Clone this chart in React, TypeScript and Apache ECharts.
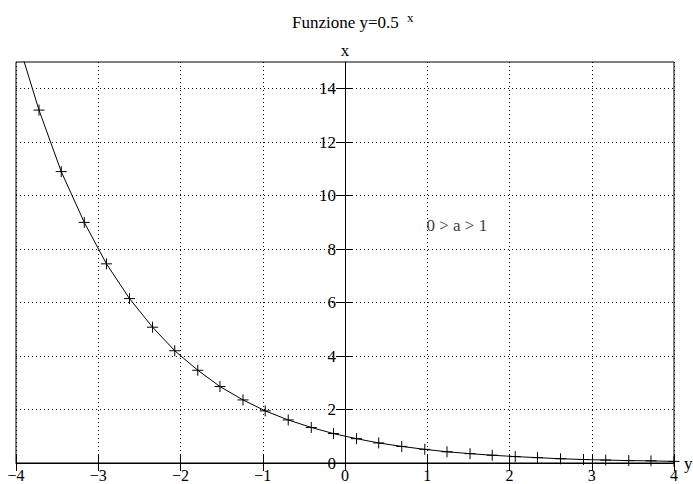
import React, { useEffect, useRef } from 'react';
import * as echarts from 'echarts';

const xValues = [-4, -3.72, -3.45, -3.17, -2.9, -2.62, -2.34, -2.07, -1.79, -1.52, -1.24, -0.97, -0.69, -0.41, -0.14, 0.14, 0.41, 0.69, 0.97, 1.24, 1.52, 1.79, 2.07, 2.34, 2.62, 2.9, 3.17, 3.45, 3.72, 4];
const yValues = [16, 13.2, 10.9, 9.0, 7.45, 6.15, 5.08, 4.2, 3.47, 2.86, 2.36, 1.95, 1.61, 1.33, 1.1, 0.91, 0.75, 0.62, 0.51, 0.42, 0.35, 0.29, 0.24, 0.2, 0.16, 0.13, 0.11, 0.09, 0.08, 0.06];
const xTicks = [-4, -3, -2, -1, 0, 1, 2, 3, 4];
const yTicks = [0, 2, 4, 6, 8, 10, 12, 14];
const titleText = 'Funzione y=0.5';
const titleSup = 'x';
const xAxisName = 'y';
const yAxisName = 'x';
const noteText = '0 > a > 1';
const noteAt = [0.99, 8.87];

const GRID_LEFT = 16;
const GRID_RIGHT = 19;
const CHART_W = 693;
const CHART_H = 484;

export default function App() {
  const ref = useRef<HTMLDivElement>(null);
  useEffect(() => {
    const chart = echarts.init(ref.current!, null, { renderer: 'svg' });
    const font = '"Liberation Serif", "Times New Roman", serif';
    const black = '#000';
    const dotted = { show: true, lineStyle: { color: black, width: 1, type: [1, 3] } };
    const fmtX = (v: number) => (v < 0 ? '\u2212' + Math.abs(v) : String(v));
    const xMin = xTicks[0];
    const xMax = xTicks[xTicks.length - 1];
    // place the y axis at x = 0 inside the grid
    const plotW = CHART_W - GRID_LEFT - GRID_RIGHT;
    const yAxisOffset = -plotW * (0 - xMin) / (xMax - xMin);
    chart.setOption({
      animation: false,
      title: [
        { text: titleText, left: 292, top: 14, padding: 0, textStyle: { fontFamily: font, fontSize: 17, fontWeight: 'normal', color: black } },
        { text: titleSup, left: 407, top: 11, padding: 0, textStyle: { fontFamily: font, fontSize: 13, fontWeight: 'normal', color: black } },
      ],
      grid: { left: GRID_LEFT, right: GRID_RIGHT, top: 62, bottom: 21, show: true, borderColor: black, borderWidth: 1, backgroundColor: 'transparent', outerBoundsMode: 'none', containLabel: false },
      xAxis: [
        {
          type: 'value', min: xMin, max: xMax, interval: 1, position: 'bottom',
          name: xAxisName, nameLocation: 'end', nameGap: 10,
          nameTextStyle: { fontFamily: font, fontSize: 17, color: black, verticalAlign: 'middle' },
          axisLine: { show: true, onZero: false, lineStyle: { color: black, width: 1 } },
          axisTick: { show: true, length: 8, lineStyle: { color: black, width: 1 } },
          axisLabel: { fontFamily: font, fontSize: 16, color: black, margin: 4, formatter: fmtX, showMinLabel: true, showMaxLabel: true },
          splitLine: dotted,
        },
        {
          type: 'value', min: xMin, max: xMax, interval: 1, position: 'bottom',
          axisLine: { show: false, onZero: false },
          axisTick: { show: true, inside: true, length: 8, lineStyle: { color: black, width: 1 } },
          axisLabel: { show: false },
          splitLine: { show: false },
        },
      ],
      yAxis: [
        {
          type: 'value', min: 0, max: 15, interval: 2, position: 'left', offset: yAxisOffset,
          name: yAxisName, nameLocation: 'end', nameGap: 3,
          nameTextStyle: { fontFamily: font, fontSize: 17, color: black },
          axisLine: { show: true, onZero: false, lineStyle: { color: black, width: 1 } },
          axisTick: { show: true, length: 8, customValues: yTicks, lineStyle: { color: black, width: 1 } },
          axisLabel: { fontFamily: font, fontSize: 17, color: black, margin: 9, customValues: yTicks },
          splitLine: dotted,
        },
        {
          type: 'value', min: 0, max: 15, interval: 2, position: 'left', offset: yAxisOffset,
          axisLine: { show: false, onZero: false },
          axisTick: { show: true, inside: true, length: 8, customValues: yTicks, lineStyle: { color: black, width: 1 } },
          axisLabel: { show: false },
          splitLine: { show: false },
        },
      ],
      series: [
        {
          type: 'line', xAxisIndex: 0, yAxisIndex: 0,
          data: xValues.map((x, i) => [x, yValues[i]]),
          symbol: 'path://M0,5L10,5M5,0L5,10', symbolSize: 11,
          showSymbol: true, showAllSymbol: true, clip: true, silent: true,
          lineStyle: { color: black, width: 1 },
          itemStyle: { color: black, borderColor: black, borderWidth: 1 },
        },
        {
          type: 'scatter', xAxisIndex: 0, yAxisIndex: 0,
          data: [noteAt], symbolSize: 0, silent: true,
          label: { show: true, position: 'right', distance: 0, formatter: noteText, fontFamily: font, fontSize: 17, color: black },
        },
      ],
    });
    return () => chart.dispose();
  }, []);
  return <div ref={ref} style={{ position: 'absolute', left: 0, top: 0, width: CHART_W, height: CHART_H }} />;
}
